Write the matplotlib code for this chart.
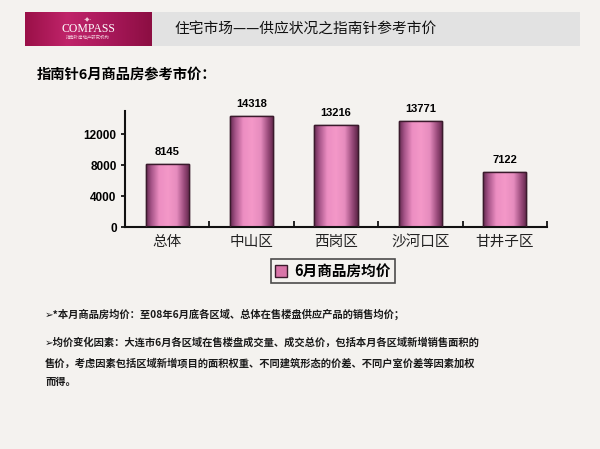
import numpy as np
import matplotlib.pyplot as plt
from matplotlib.colors import LinearSegmentedColormap
from matplotlib.patches import Rectangle

plt.rcParams['font.family'] = ['Noto Sans CJK SC', 'DejaVu Sans']

# data
categories = ['总体', '中山区', '西岗区', '沙河口区', '甘井子区']
prices = [8145, 14318, 13216, 13771, 7122]
series_name = '6月商品房均价'
yticks = [0, 4000, 8000, 12000]

title = '住宅市场——供应状况之指南针参考市价'
subtitle = '指南针6月商品房参考市价：'
notes = [
    '➢*本月商品房均价：至08年6月底各区域、总体在售楼盘供应产品的销售均价；',
    '➢均价变化因素：大连市6月各区域在售楼盘成交量、成交总价，包括本月各区域新增销售面积的',
    '售价，考虑因素包括区域新增项目的面积权重、不同建筑形态的价差、不同户室价差等因素加权',
    '而得。',
]

W, H = 600, 449
bg = '#f4f2ef'
fig = plt.figure(figsize=(W / 100, H / 100), dpi=100, facecolor=bg)

def fbox(x0, y0, x1, y1):
    # pixel box (top-left origin) -> figure coords
    return [x0 / W, 1 - y1 / H, (x1 - x0) / W, (y1 - y0) / H]

# header bar
hdr = fig.add_axes(fbox(25, 12, 580, 46))
hdr.set_xlim(0, 555)
hdr.set_ylim(0, 34)
hdr.axis('off')
hdr.add_patch(Rectangle((127, 0), 428, 34, color='#e2e2e2', lw=0))
logo_cmap = LinearSegmentedColormap.from_list('logo', ['#9a1048', '#c0246a', '#a8185a', '#8c0e42'])
grad = np.linspace(0, 1, 200).reshape(1, -1)
hdr.imshow(grad, cmap=logo_cmap, extent=(0, 127, 0, 34), aspect='auto', zorder=1)
hdr.text(63, 17, 'COMPASS', color='white', fontsize=8.5, ha='center', va='center',
         family='Liberation Serif', zorder=3)
hdr.text(63, 26, '-◆-', color='#f0c8d8', fontsize=4, ha='center', va='center',
         family='DejaVu Sans', zorder=3)
hdr.text(63, 8, '指南针房地产研究机构', color='#f0c8d8', fontsize=3.2, ha='center', va='center', zorder=3)
hdr.text(281, 17, title, fontsize=10.6, ha='center', va='center', color='#111111', zorder=3)

fig.text(37 / W, 1 - 75 / H, subtitle, fontsize=10.3, fontweight='bold', va='center', ha='left')

# chart
ax = fig.add_axes(fbox(125, 111, 547, 227))
ax.set_facecolor('none')
x = np.arange(len(categories))
bars = ax.bar(x, prices, width=0.51, color='#ee8cc0', edgecolor='#3a1a2c', linewidth=1.0,
              zorder=2, label=series_name)

bar_cmap = LinearSegmentedColormap.from_list(
    'bar', [(0.0, '#642a50'), (0.12, '#a65488'), (0.3, '#ec8ec2'), (0.5, '#f498c8'),
            (0.7, '#e68cbe'), (0.88, '#964878'), (1.0, '#5e2648')])
for b in bars:
    bx, by = b.get_x(), b.get_y()
    bw, bh = b.get_width(), b.get_height()
    im = ax.imshow(grad, cmap=bar_cmap, extent=(bx, bx + bw, by, by + bh),
                   aspect='auto', zorder=2.5)
    im.set_clip_path(b)
    ax.add_patch(Rectangle((bx, by), bw, bh, fill=False, edgecolor='#3a1a2c', lw=1.0, zorder=3))

for xi, v in zip(x, prices):
    ax.annotate(str(v), (xi, v), xytext=(0, 5), textcoords='offset points', ha='center',
                va='bottom', fontsize=8, fontweight='bold', family='Liberation Sans')

ax.set_xlim(-0.5, len(categories) - 0.5)
ax.set_ylim(0, 15000)
ax.set_yticks(yticks)
ax.set_yticklabels([str(t) for t in yticks], fontsize=8.5, fontweight='bold', family='Liberation Sans')
ax.set_xticks(x)
ax.set_xticklabels(categories, fontsize=10.5, color='#222222')
ax.set_xticks(np.arange(0.5, len(categories)), minor=True)
ax.tick_params(axis='x', which='major', length=0, pad=6)
ax.tick_params(axis='x', which='minor', direction='in', length=4, width=1.2)
ax.tick_params(axis='y', direction='out', length=3, width=1.2, pad=3)
for s in ['top', 'right']:
    ax.spines[s].set_visible(False)
for s in ['left', 'bottom']:
    ax.spines[s].set_linewidth(1.5)
    ax.spines[s].set_color('#111111')

leg = fig.legend(handles=[Rectangle((0, 0), 1, 1, facecolor='#d874a8', edgecolor='#3a1a2c')],
                 labels=[series_name], loc='center', bbox_to_anchor=(333 / W, 1 - 271 / H),
                 frameon=True, fancybox=False, edgecolor='#222222',
                 prop={'weight': 'bold', 'size': 10.5}, handlelength=0.8, handleheight=0.8,
                 handletextpad=0.5, borderpad=0.3, borderaxespad=0)
leg.get_frame().set_linewidth(1.2)
leg.get_frame().set_facecolor('none')

note_y = [314, 343, 363, 382]
for t, yy in zip(notes, note_y):
    fig.text(45 / W, 1 - yy / H, t, fontsize=7.4, fontweight='bold', va='center', ha='left',
             color='#1a1a1a')

fig.savefig('out.png', dpi=100, facecolor=bg)
